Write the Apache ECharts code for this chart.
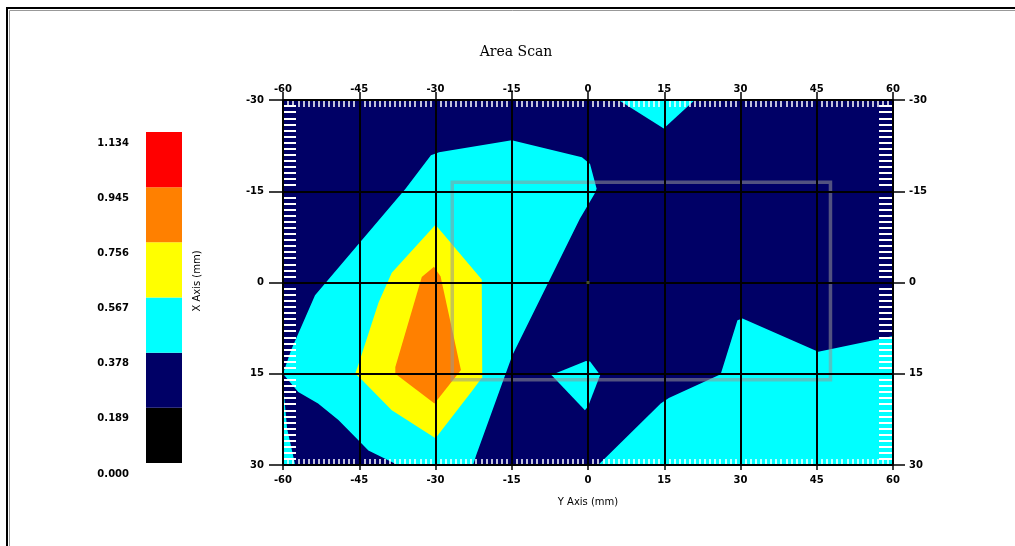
<!DOCTYPE html>
<html>
<head>
<meta charset="utf-8">
<script src="https://cdn.jsdelivr.net/npm/echarts@6/dist/echarts.min.js"></script>
<style>
html,body{margin:0;padding:0;background:#fff;}
#chart{width:1015px;height:546px;}
</style>
</head>
<body>
<div id="chart"></div>
<script>
// ---- data ----
const chartTitle = 'Area Scan';
const xAxisName = 'Y Axis (mm)';
const colorbarName = 'X Axis (mm)';
const xRange = [-60, 60];
const yRange = [-30, 30];
const tickStep = 15;
const contourLevels = [0, 0.189, 0.378, 0.567, 0.756, 0.945, 1.134];
const levelColors = ['#000000', '#000066', '#00ffff', '#ffff00', '#ff8000', '#ff0000'];

// contour region outlines, [x (mm), y (mm)]
const cyanMain = [[-30.9,-20.9],[-29.3,-21.4],[-15,-23.4],[-1.2,-20.6],[0.4,-19.5],[1.7,-15.4],[1.3,-14.6],[-1.6,-10.5],[-14.9,12.0],[-22.0,28.4],[-22.6,30],[-37.5,30],[-38.6,29.5],[-43.2,27.6],[-45.8,25.4],[-49.1,22.6],[-53.1,19.9],[-57.0,18.0],[-60,15],[-58.4,11.1],[-53.7,2.1],[-35.9,-15.4]];
const cyanTop = [[6,-30],[21,-30],[14.9,-25.3]];
const cyanMid = [[-7.2,15.2],[-0.4,12.9],[0.4,13.0],[2.4,15.2],[0,20.4],[-0.6,21.0]];
const cyanBottomRight = [[2.0,30],[14.3,19.9],[15.9,19.0],[26.1,15.1],[29.4,6.2],[30.4,5.9],[45.3,11.4],[48.6,10.8],[57.8,9.2],[60,8.8],[60,30]];
const cyanEdge = [[-60,16.5],[-59.2,24],[-57.6,30],[-60,30]];
const yellowRegion = [[-30,-9.5],[-20.9,-0.5],[-20.8,15.8],[-21.0,15.8],[-22.7,17.7],[-30,25.6],[-38.6,21],[-44.5,16],[-45.8,15],[-45.1,13.3],[-41.2,3.3],[-38.6,-1.6]];
const orangeRegion = [[-30.3,-2.6],[-29.0,-1.0],[-25.0,14.4],[-30.2,19.9],[-37.9,15],[-37.9,13.9],[-32.7,-0.9]];
const regionShapes = [cyanMain, cyanTop, cyanMid, cyanBottomRight, cyanEdge, yellowRegion, orangeRegion];
const regionLevel = [2, 2, 2, 2, 2, 3, 4];

const scanWindowX = [-26.7, 47.7];
const scanWindowY = [-16.5, 16.0];
const originMark = [[0, 0]];

// ---- chart ----
const chart = echarts.init(document.getElementById('chart'), null, {renderer: 'canvas'});
const lblFont = {fontFamily: 'DejaVu Sans', fontSize: 10, fontWeight: 'bold', color: '#000'};

function mainAxis(pos, isX, tickLen, margin, withSplit, name) {
  const a = {
    type: 'value', position: pos, gridIndex: 0, z: 5,
    min: isX ? xRange[0] : yRange[0], max: isX ? xRange[1] : yRange[1],
    interval: tickStep, inverse: !isX,
    axisLine: {show: true, onZero: false, lineStyle: {color: '#000', width: 1.5}},
    axisTick: {show: true, length: tickLen, lineStyle: {color: '#000', width: 1.5}},
    axisLabel: Object.assign({margin: margin}, lblFont),
    splitLine: {show: withSplit, lineStyle: {color: '#000', width: 2}}
  };
  if (name) {
    a.name = name; a.nameLocation = 'middle'; a.nameGap = 32;
    a.nameTextStyle = {fontFamily: 'DejaVu Sans', fontSize: 10, color: '#000'};
  }
  return a;
}
function minorAxis(pos, isX, len, split) {
  return {
    type: 'value', position: pos, gridIndex: 0, z: 4,
    min: isX ? xRange[0] : yRange[0], max: isX ? xRange[1] : yRange[1],
    interval: tickStep, inverse: !isX,
    axisLine: {show: false, onZero: false},
    axisTick: {show: false, inside: true},
    axisLabel: {show: false},
    splitLine: {show: false},
    minorTick: {show: true, splitNumber: split, length: len, lineStyle: {color: '#ffffff', width: isX ? 1.5 : 2}}
  };
}

const barSeries = levelColors.map((c, i) => ({
  type: 'bar', xAxisIndex: 4, yAxisIndex: 4, stack: 'cb', barWidth: '100%',
  data: [contourLevels[i + 1] - contourLevels[i]],
  itemStyle: {color: c}, silent: true
}));

const option = {
  animation: false,
  backgroundColor: '#ffffff',
  title: {
    text: chartTitle, left: 511, top: 40, textAlign: 'center',
    textStyle: {fontFamily: 'DejaVu Serif', fontSize: 14, fontWeight: 'normal', color: '#000'}
  },
  grid: [
    {left: 283, right: 122, top: 100, bottom: 81, show: true, backgroundColor: levelColors[1], borderWidth: 0, z: 0},
    {left: 146, width: 36, top: 132, height: 331}
  ],
  xAxis: [
    mainAxis('bottom', true, 5, 10, true, xAxisName),
    mainAxis('top', true, 8, 6, false),
    minorAxis('bottom', true, 6, 15),
    minorAxis('top', true, 7, 15),
    {type: 'category', gridIndex: 1, data: [''], show: false}
  ],
  yAxis: [
    mainAxis('left', false, 14, 19, true),
    mainAxis('right', false, 12, 16, false),
    minorAxis('left', false, 13, 15),
    minorAxis('right', false, 14, 15),
    {type: 'value', gridIndex: 1, min: contourLevels[0], max: contourLevels[contourLevels.length - 1],
     interval: contourLevels[1] - contourLevels[0], position: 'left',
     axisLine: {show: false}, axisTick: {show: false}, splitLine: {show: false},
     axisLabel: Object.assign({margin: 17, verticalAlign: 'top', padding: [6, 0, 0, 0],
       formatter: v => v.toFixed(3)}, lblFont)}
  ],
  graphic: [
    {type: 'rect', shape: {x: 7, y: 8, width: 1100, height: 600}, style: {fill: 'none', stroke: '#000', lineWidth: 2}, z: 10},
    {type: 'rect', shape: {x: 9.5, y: 10.5, width: 1100, height: 600}, style: {fill: 'none', stroke: '#999', lineWidth: 1}, z: 10},
    {type: 'text', x: 197, y: 281, rotation: Math.PI / 2,
     style: {text: colorbarName, fontFamily: 'DejaVu Sans', fontSize: 10, fill: '#000', textAlign: 'center', textVerticalAlign: 'middle'}}
  ],
  series: [
    {
      type: 'custom', xAxisIndex: 0, yAxisIndex: 0, z: 2, silent: true,
      data: regionShapes.map((r, i) => [i]),
      renderItem: function (params, api) {
        const idx = api.value(0);
        const pts = regionShapes[idx].map(p => api.coord(p));
        return {type: 'polygon', shape: {points: pts}, style: {fill: levelColors[regionLevel[idx]], stroke: null}};
      }
    },
    {
      type: 'custom', xAxisIndex: 0, yAxisIndex: 0, z: 3, silent: true,
      data: [[0]],
      renderItem: function (params, api) {
        const p1 = api.coord([scanWindowX[0], scanWindowY[0]]);
        const p2 = api.coord([scanWindowX[1], scanWindowY[1]]);
        return {type: 'rect', shape: {x: p1[0], y: p1[1], width: p2[0] - p1[0], height: p2[1] - p1[1]},
          style: {fill: 'none', stroke: 'rgba(150,150,150,0.55)', lineWidth: 3.5}};
      }
    },
    {
      type: 'scatter', xAxisIndex: 0, yAxisIndex: 0, z: 6, silent: true,
      symbol: 'rect', symbolSize: 3, data: originMark, itemStyle: {color: '#5a6432'}
    }
  ].concat(barSeries)
};
chart.setOption(option);
</script>
</body>
</html>
